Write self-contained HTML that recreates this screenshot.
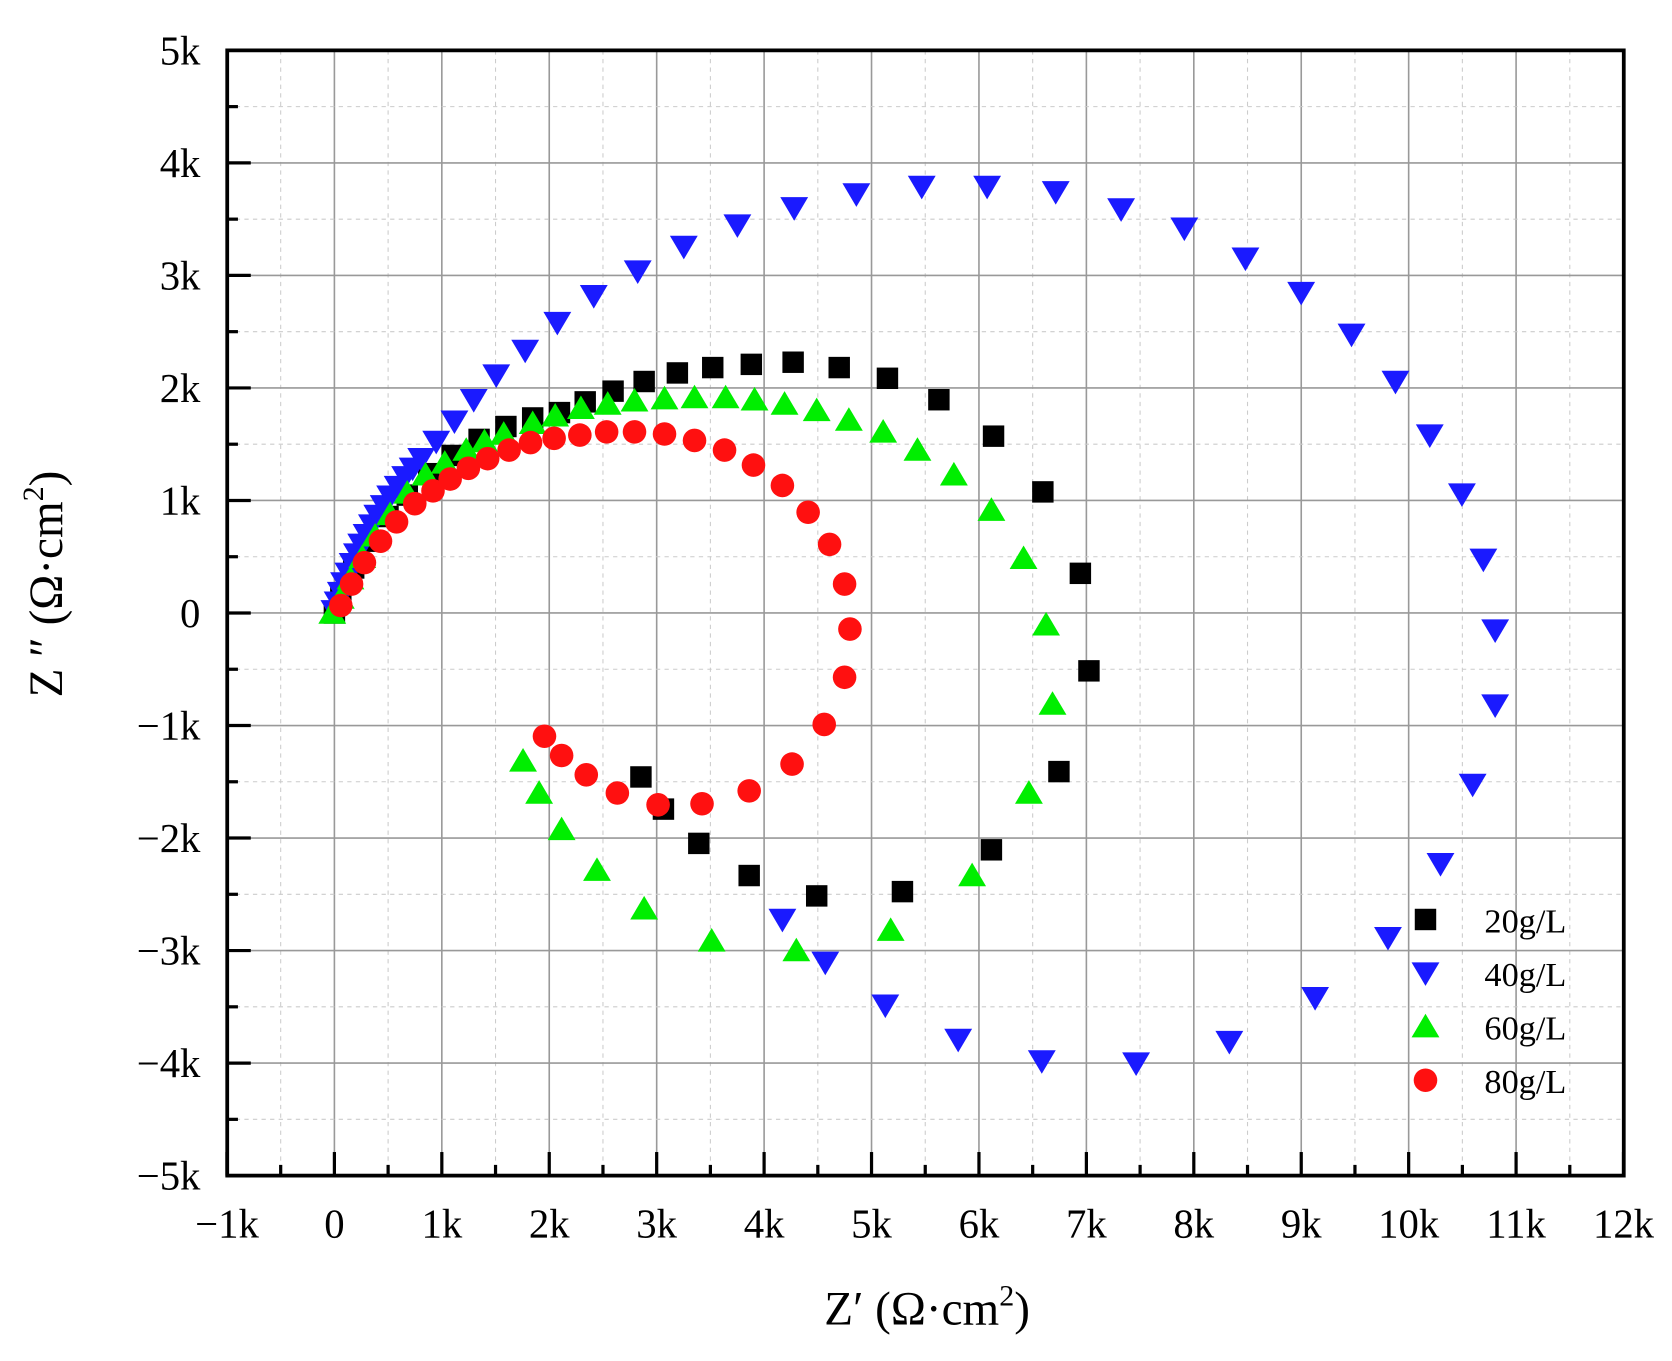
<!DOCTYPE html>
<html><head><meta charset="utf-8"><style>html,body{margin:0;padding:0;background:#fff}svg{display:block}</style></head>
<body>
<svg width="1672" height="1361" viewBox="0 0 1560 1270" preserveAspectRatio="none" xmlns="http://www.w3.org/2000/svg" font-family="Liberation Serif, serif">
<defs>
<rect id="sq" x="-10" y="-10" width="20" height="20" fill="#000"/>
<polygon id="dn" points="-13,-10 13,-10 0,12" fill="#1a1aff"/>
<polygon id="up" points="-13,10 13,10 0,-12" fill="#00ee00"/>
<circle id="ci" r="11" fill="#ff1010"/>
</defs>
<g id="grid"></g>
<g id="axes"></g>
<g id="data"></g>
<text x="865" y="1236" font-size="44" text-anchor="middle">Z′  (Ω·cm<tspan dy="-18" font-size="28">2</tspan><tspan dy="18">)</tspan></text>
<text transform="translate(58,545) rotate(-90)" font-size="44" text-anchor="middle">Z ″ (Ω·cm<tspan dy="-18" font-size="28">2</tspan><tspan dy="18">)</tspan></text>
<g font-size="32">
<use href="#sq" x="1330" y="858"/><text x="1385" y="870">20g/L</text>
<use href="#dn" x="1330" y="908"/><text x="1385" y="920">40g/L</text>
<use href="#up" x="1330" y="958"/><text x="1385" y="970">60g/L</text>
<use href="#ci" x="1330" y="1008"/><text x="1385" y="1020">80g/L</text>
</g>
</svg>
<script>
const NS="http://www.w3.org/2000/svg";
const L=212,R=1515,T=47,B=1097,X0=312,XK=100.23,Y0=572,YK=105;
function el(p,t,a){const e=document.createElementNS(NS,t);for(const k in a)e.setAttribute(k,a[k]);p.appendChild(e);return e;}
const g=document.getElementById('grid'),ax=document.getElementById('axes'),d=document.getElementById('data');
for(let v=-1;v<=12;v+=0.5){const x=X0+v*XK;el(g,'line',{x1:x,x2:x,y1:T,y2:B,stroke:Number.isInteger(v)?'#999':'#ccc','stroke-width':Number.isInteger(v)?1.5:1,'stroke-dasharray':Number.isInteger(v)?'':'4,4'});}
for(let v=-5;v<=5;v+=0.5){const y=Y0-v*YK;el(g,'line',{x1:L,x2:R,y1:y,y2:y,stroke:Number.isInteger(v)?'#999':'#ccc','stroke-width':Number.isInteger(v)?1.5:1,'stroke-dasharray':Number.isInteger(v)?'':'4,4'});}
el(ax,'rect',{x:L,y:T,width:R-L,height:B-T,fill:'none',stroke:'#000','stroke-width':3.5});
for(let v=-1;v<=12;v+=0.5){const x=X0+v*XK,len=Number.isInteger(v)?22:10;el(ax,'line',{x1:x,x2:x,y1:B,y2:B-len,stroke:'#000','stroke-width':3});
 if(Number.isInteger(v)){const t=el(ax,'text',{x:x,y:B+58,'font-size':38,'text-anchor':'middle'});t.textContent=v==0?'0':(v<0?'−':'')+Math.abs(v)+'k';}}
for(let v=-5;v<=5;v+=0.5){const y=Y0-v*YK,len=Number.isInteger(v)?22:10;el(ax,'line',{x1:L,x2:L+len,y1:y,y2:y,stroke:'#000','stroke-width':3});
 if(Number.isInteger(v)){const t=el(ax,'text',{x:187,y:y+13,'font-size':38,'text-anchor':'end'});t.textContent=v==0?'0':(v<0?'−':'')+Math.abs(v)+'k';}}
const blue=[[312,570],[315,562],[318,553],[321,544],[325,535],[329,526],[333,517],[337,508],[342,499],[347,490],[352,481],[358,472],[364,463],[371,454],[378,445],[385,437],[393,428],[407,412],[424,393],[442,373],[463,350],[490,327],[520,301],[554,276],[595,253],[638,230],[688,210],[741,194],[799,181],[860,174],[921,174],[985,179],[1046,195],[1105,213],[1162,241],[1214,273],[1261,312],[1302,356],[1334,406],[1364,461],[1384,522],[1395,588],[1395,658],[1374,732],[1344,806],[1295,875],[1227,931],[1147,972],[1060,992],[972,990],[894,970],[826,938],[770,898],[730,858]];
const black=[[312,572],[318,555],[330,530],[345,505],[362,482],[380,462],[400,442],[422,425],[447,410],[472,398],[497,390],[522,385],[546,375],[572,365],[601,356],[632,348],[665,343],[701,340],[740,338],[783,343],[828,353],[876,373],[927,407],[973,459],[1008,535],[1016,626],[988,720],[925,793],[842,832],[762,836],[699,817],[652,787],[619,755],[598,725]];
const green=[[310,572],[318,558],[327,540],[338,520],[350,500],[364,480],[380,460],[397,443],[415,432],[435,420],[452,412],[470,405],[497,395],[518,388],[542,381],[567,377],[592,374],[620,372],[648,371],[677,371],[704,373],[732,377],[762,383],[792,392],[824,403],[856,420],[890,443],[925,476],[955,521],[976,583],[982,657],[960,740],[907,817],[831,868],[743,887],[664,878],[601,848],[557,812],[524,774],[503,740],[488,710]];
const red=[[318,565],[328,545],[340,525],[355,505],[370,487],[387,470],[404,458],[420,447],[437,437],[455,428],[475,420],[495,413],[517,409],[541,406],[566,403],[592,403],[620,405],[648,411],[676,420],[703,434],[730,453],[754,478],[774,508],[788,545],[793,587],[788,632],[769,676],[739,713],[699,738],[655,750],[614,751],[576,740],[547,723],[524,705],[508,687]];
function plot(a,id){for(const[x,y]of a)el(d,'use',{href:'#'+id,x:x,y:y});}
plot(black,'sq');plot(blue,'dn');plot(green,'up');plot(red,'ci');
</script>
</body></html>
